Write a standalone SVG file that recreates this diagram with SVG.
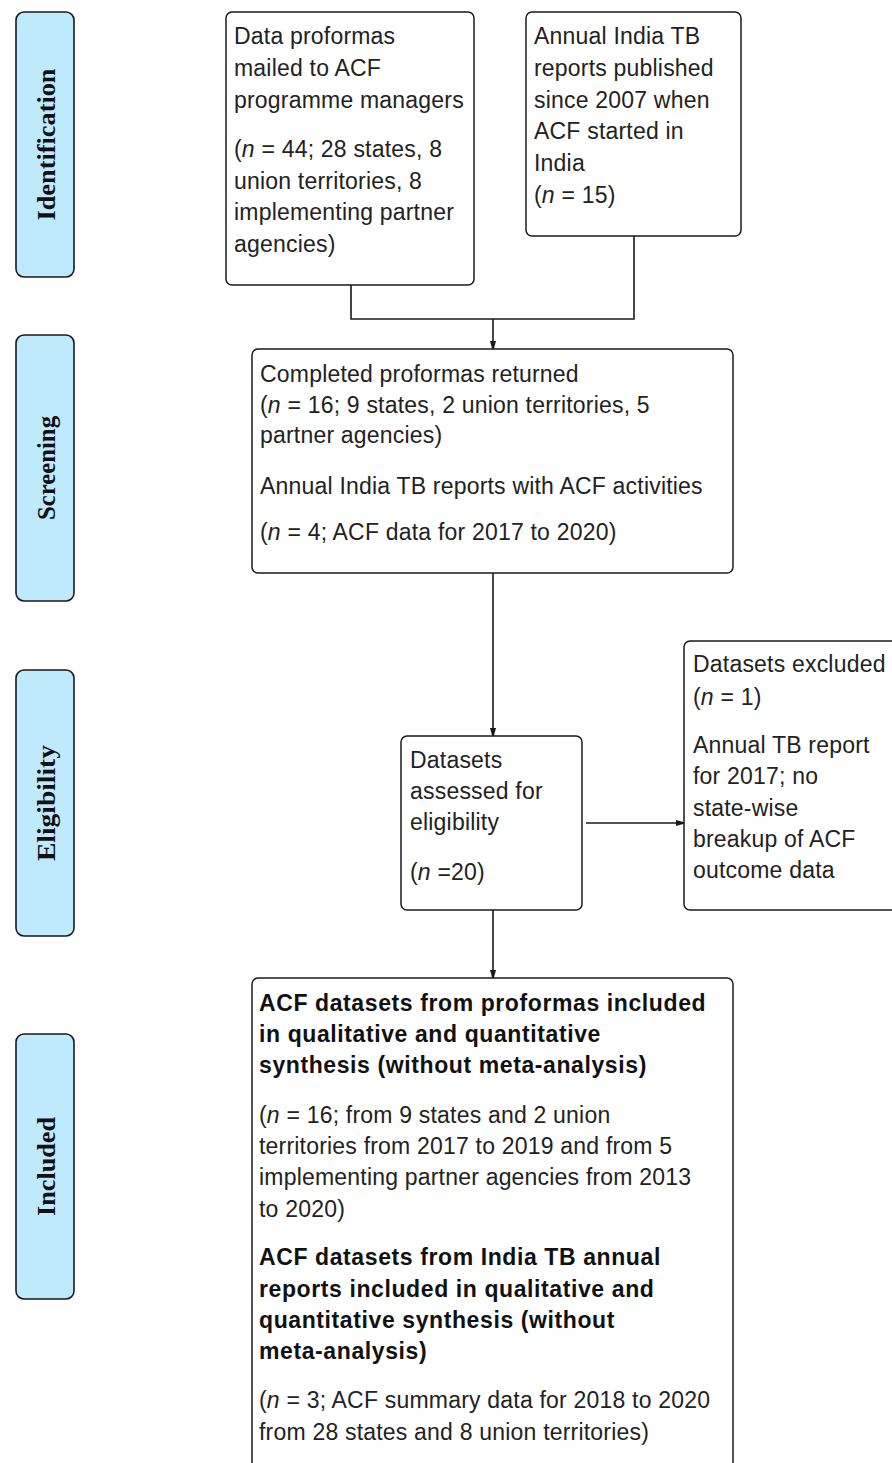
<svg xmlns="http://www.w3.org/2000/svg" width="892" height="1463" viewBox="0 0 892 1463">
  <style>
    .phase rect { fill: #bfeafd; stroke: #1a1a1a; stroke-width: 1.6; }
    .phase text { font-family: "Liberation Serif", "Times New Roman", serif; font-weight: bold; font-size: 26px; fill: #111; text-anchor: middle; }
    .box rect { fill: #ffffff; stroke: #1a1a1a; stroke-width: 1.5; }
    .box text { font-family: "Liberation Sans", Arial, sans-serif; font-size: 23px; letter-spacing: 0.2px; fill: #222; }
    .box text.b { font-weight: bold; letter-spacing: 0.6px; fill: #111; }
    .conn path { fill: none; stroke: #1a1a1a; stroke-width: 1.6; }
  </style>
  <defs>
    <marker id="arrow" markerUnits="userSpaceOnUse" markerWidth="9" markerHeight="8" refX="8" refY="4" orient="auto">
      <path d="M0,1 L8,3.2 L8,4.8 L0,7 z" fill="#1a1a1a"/>
    </marker>
  </defs>
  <rect width="892" height="1463" fill="#ffffff"/>

  <!-- Phase labels -->
  <g id="phase-identification" class="phase">
    <rect x="16" y="12" width="58" height="265" rx="8"/>
    <text transform="translate(55,144.5) rotate(-90)" textLength="152" lengthAdjust="spacingAndGlyphs">Identification</text>
  </g>
  <g id="phase-screening" class="phase">
    <rect x="16" y="335" width="58" height="266" rx="8"/>
    <text transform="translate(55,468) rotate(-90)" textLength="104" lengthAdjust="spacingAndGlyphs">Screening</text>
  </g>
  <g id="phase-eligibility" class="phase">
    <rect x="16" y="670" width="58" height="266" rx="8"/>
    <text transform="translate(55,803) rotate(-90)" textLength="116" lengthAdjust="spacingAndGlyphs">Eligibility</text>
  </g>
  <g id="phase-included" class="phase">
    <rect x="16" y="1034" width="58" height="265" rx="8"/>
    <text transform="translate(55,1166.5) rotate(-90)" textLength="99" lengthAdjust="spacingAndGlyphs">Included</text>
  </g>

  <!-- Connectors -->
  <g id="connectors" class="conn">
    <path d="M351,285 V319 H634 V236"/>
    <path d="M493,319 V349" marker-end="url(#arrow)"/>
    <path d="M493,573 V736" marker-end="url(#arrow)"/>
    <path d="M586,823 H684" marker-end="url(#arrow)"/>
    <path d="M493,910 V978" marker-end="url(#arrow)"/>
  </g>

  <!-- Identification boxes -->
  <g id="proformas-mailed" class="box">
    <rect x="226" y="12" width="248" height="273" rx="6"/>
    <text x="234" y="44">Data proformas</text>
    <text x="234" y="76">mailed to ACF</text>
    <text x="234" y="108">programme managers</text>
    <text x="234" y="157">(<tspan font-style="italic">n</tspan> = 44; 28 states, 8</text>
    <text x="234" y="189">union territories, 8</text>
    <text x="234" y="220">implementing partner</text>
    <text x="234" y="252">agencies)</text>
  </g>
  <g id="annual-reports" class="box">
    <rect x="526" y="12" width="215" height="224" rx="6"/>
    <text x="534" y="44">Annual India TB</text>
    <text x="534" y="76">reports published</text>
    <text x="534" y="108">since 2007 when</text>
    <text x="534" y="139">ACF started in</text>
    <text x="534" y="171">India</text>
    <text x="534" y="203">(<tspan font-style="italic">n</tspan> = 15)</text>
  </g>

  <!-- Screening box -->
  <g id="screened" class="box">
    <rect x="252" y="349" width="481" height="224" rx="6"/>
    <text x="260" y="382">Completed proformas returned</text>
    <text x="260" y="413">(<tspan font-style="italic">n</tspan> = 16; 9 states, 2 union territories, 5</text>
    <text x="260" y="443">partner agencies)</text>
    <text x="260" y="494">Annual India TB reports with ACF activities</text>
    <text x="260" y="540">(<tspan font-style="italic">n</tspan> = 4; ACF data for 2017 to 2020)</text>
  </g>

  <!-- Eligibility boxes -->
  <g id="assessed" class="box">
    <rect x="401" y="736" width="181" height="174" rx="6"/>
    <text x="410" y="768">Datasets</text>
    <text x="410" y="799">assessed for</text>
    <text x="410" y="830">eligibility</text>
    <text x="410" y="880">(<tspan font-style="italic">n</tspan> =20)</text>
  </g>
  <g id="excluded" class="box">
    <rect x="684" y="641" width="230" height="269" rx="6"/>
    <text x="693" y="672">Datasets excluded</text>
    <text x="693" y="705">(<tspan font-style="italic">n</tspan> = 1)</text>
    <text x="693" y="753">Annual TB report</text>
    <text x="693" y="784">for 2017; no</text>
    <text x="693" y="816">state-wise</text>
    <text x="693" y="847">breakup of ACF</text>
    <text x="693" y="878">outcome data</text>
  </g>

  <!-- Included box -->
  <g id="included" class="box">
    <rect x="252" y="978" width="481" height="520" rx="6"/>
    <text class="b" x="259" y="1011">ACF datasets from proformas included</text>
    <text class="b" x="259" y="1042">in qualitative and quantitative</text>
    <text class="b" x="259" y="1073">synthesis (without meta-analysis)</text>
    <text x="259" y="1123">(<tspan font-style="italic">n</tspan> = 16; from 9 states and 2 union</text>
    <text x="259" y="1154">territories from 2017 to 2019 and from 5</text>
    <text x="259" y="1185">implementing partner agencies from 2013</text>
    <text x="259" y="1217">to 2020)</text>
    <text class="b" x="259" y="1265">ACF datasets from India TB annual</text>
    <text class="b" x="259" y="1297">reports included in qualitative and</text>
    <text class="b" x="259" y="1328">quantitative synthesis (without</text>
    <text class="b" x="259" y="1359">meta-analysis)</text>
    <text x="259" y="1408">(<tspan font-style="italic">n</tspan> = 3; ACF summary data for 2018 to 2020</text>
    <text x="259" y="1440">from 28 states and 8 union territories)</text>
  </g>
</svg>
